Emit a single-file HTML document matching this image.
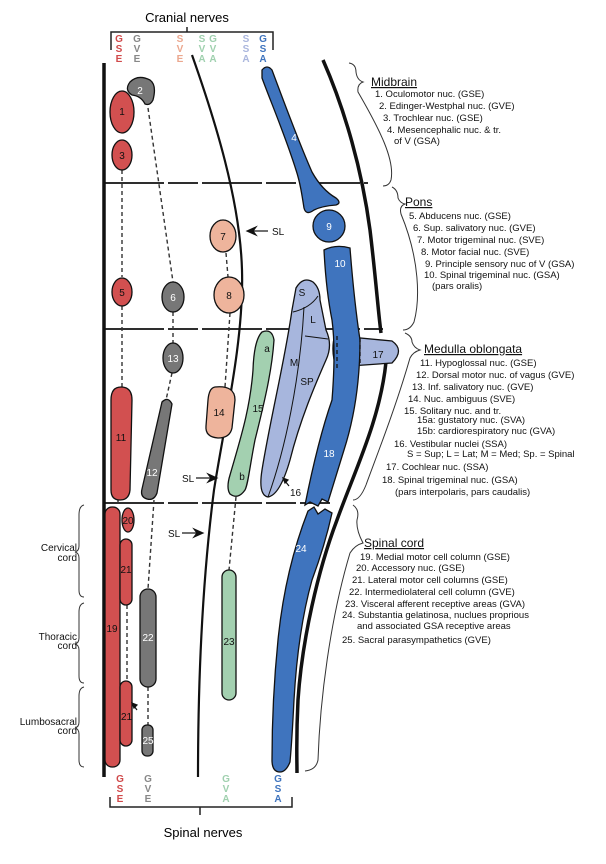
<!DOCTYPE html>
<html><head><meta charset="utf-8"><style>
html,body{margin:0;padding:0;background:#fff}
svg{display:block}
text{font-family:"Liberation Sans",Arial,sans-serif}
</style></head><body>
<svg width="606" height="864" viewBox="0 0 606 864" xmlns="http://www.w3.org/2000/svg">
<g font-size="10" text-anchor="middle" font-weight="bold">
<text x="187" y="22" font-size="13" font-weight="normal">Cranial nerves</text>
</g>
<path d="M111,50 V32 H273 V50 M187,32 V27" fill="none" stroke="#222" stroke-width="1.5"/>
<g font-size="10" font-weight="bold" text-anchor="middle">
<g fill="#d0494a"><text x="119" y="42">G</text><text x="119" y="52">S</text><text x="119" y="62">E</text></g>
<g fill="#888"><text x="137" y="42">G</text><text x="137" y="52">V</text><text x="137" y="62">E</text></g>
<g fill="#eba78e"><text x="180" y="42">S</text><text x="180" y="52">V</text><text x="180" y="62">E</text></g>
<g fill="#9fd0ae"><text x="202" y="42">S</text><text x="202" y="52">V</text><text x="202" y="62">A</text><text x="213" y="42">G</text><text x="213" y="52">V</text><text x="213" y="62">A</text></g>
<g fill="#aab6dd"><text x="246" y="42">S</text><text x="246" y="52">S</text><text x="246" y="62">A</text></g>
<g fill="#3f74be"><text x="263" y="42">G</text><text x="263" y="52">S</text><text x="263" y="62">A</text></g>
<g fill="#d0494a"><text x="120" y="782">G</text><text x="120" y="792">S</text><text x="120" y="802">E</text></g>
<g fill="#888"><text x="148" y="782">G</text><text x="148" y="792">V</text><text x="148" y="802">E</text></g>
<g fill="#9fd0ae"><text x="226" y="782">G</text><text x="226" y="792">V</text><text x="226" y="802">A</text></g>
<g fill="#3f74be"><text x="278" y="782">G</text><text x="278" y="792">S</text><text x="278" y="802">A</text></g>
</g>
<path d="M110,797 V807 H292 V797 M200,807 V815" fill="none" stroke="#222" stroke-width="1.5"/>
<text x="203" y="837" font-size="13" text-anchor="middle">Spinal nerves</text>

<g fill="none" stroke="#111">
<path d="M104,63 V777" stroke-width="3.5"/>
<path d="M192,55 C215,120 240,200 242,270 C244,340 225,420 214,490 C205,560 198,650 198,777" stroke-width="2.2"/>
<path d="M323,60 C345,110 362,170 370,230 C376,280 378,310 381,333" stroke-width="3.5"/>
<path d="M386,362 C380,420 355,470 337,520 C318,570 302,640 298,700 C296,740 297,760 297,773" stroke-width="3.5"/>
<g stroke-width="1.8" stroke-dasharray="60 4 30 4">
<path d="M104,183 H368"/>
<path d="M104,329 H383"/>
<path d="M104,503 H330"/>
</g>
</g>

<g fill="none" stroke="#333" stroke-width="1">
<path d="M349,63 Q356,64 356,72 Q357,80 363,82 Q357,84 358,92 C380,130 395,160 391,180 Q389,186 383,186"/>
<path d="M392,187 Q398,190 398,198 Q400,203 405,204 Q399,206 401,214 C420,260 420,300 414,322 Q410,330 403,330"/>
<path d="M405,333 Q412,336 412,342 Q414,348 420,350 Q413,352 410,358 C395,410 375,460 366,485 Q360,500 353,500"/>
<path d="M353,505 Q360,510 357,520 Q356,530 363,543 Q355,545 350,553 C330,620 320,700 318,760 Q316,770 305,771"/>
<path d="M84,505 Q79,506 79,515 V546 Q79,551 75,552 Q79,553 79,558 V590 Q79,597 84,597"/>
<path d="M84,603 Q79,604 79,612 V638 Q79,643 75,644 Q79,645 79,650 V676 Q79,683 84,683"/>
<path d="M84,687 Q79,688 79,696 V722 Q79,727 75,728 Q79,729 79,734 V760 Q79,767 84,767"/>
</g>
<g font-size="10" text-anchor="end" fill="#111">
<text x="77" y="551">Cervical</text><text x="77" y="561">cord</text>
<text x="77" y="640">Thoracic</text><text x="77" y="649">cord</text>
<text x="77" y="725">Lumbosacral</text><text x="77" y="734">cord</text>
</g>

<g fill="none" stroke="#333" stroke-width="1.4" stroke-dasharray="4 3">
<path d="M122,170 V277 M122,306 V387 M148,108 L173,282 M173,312 V343 M172,373 L166,400 M226,253 L228,277 M230,313 L225,387 M236,497 L229,570 M154,500 L148,589 M148,687 V725 M127,605 V681 M118,500 V507"/>
</g>

<g stroke="#111" stroke-width="1.3">
<g fill="#d25050">
<ellipse cx="122" cy="112" rx="12" ry="21"/>
<ellipse cx="122" cy="155" rx="10" ry="15"/>
<ellipse cx="122" cy="292" rx="10" ry="14"/>
<path d="M121,387 Q132,387 132,400 L130,490 Q129,500 120,500 Q111,500 111,490 L111,400 Q111,387 121,387 Z"/>
<rect x="105" y="507" width="15" height="260" rx="7"/>
<ellipse cx="128" cy="520" rx="6" ry="12"/>
<rect x="120" y="539" width="12" height="66" rx="6"/>
<rect x="120" y="681" width="12" height="65" rx="6"/>
</g>
<g fill="#777">
<path d="M130,82 Q138,74 150,80 Q157,85 153,100 Q150,106 145,104 Q141,96 132,95 Q124,90 130,82 Z"/>
<ellipse cx="173" cy="297" rx="11" ry="15"/>
<ellipse cx="173" cy="358" rx="10" ry="15"/>
<path d="M162,402 Q168,396 172,404 L157,493 Q154,501 147,499 Q140,497 142,489 Z"/>
<rect x="140" y="589" width="16" height="98" rx="8"/>
<rect x="142" y="725" width="11" height="31" rx="5"/>
</g>
<g fill="#eeb49c">
<ellipse cx="223" cy="236" rx="13" ry="16"/>
<ellipse cx="229" cy="295" rx="15" ry="18"/>
<path d="M215,387 Q235,385 235,400 L232,428 Q230,438 218,438 Q205,437 206,426 L208,400 Q209,388 215,387 Z"/>
</g>
<g fill="#a3d0b0">
<path d="M262,332 Q272,328 274,340 C272,370 265,400 255,440 C250,465 248,485 245,490 Q238,500 230,494 Q226,488 230,475 C240,440 250,410 253,370 Q254,340 262,332 Z"/>
<rect x="222" y="570" width="14" height="130" rx="7"/>
</g>
<g fill="#a7b6dd">
<path d="M296,288 Q303,276 313,282 Q320,288 320,300 L326,330 Q333,345 326,360 C315,385 300,420 290,460 Q280,495 268,497 Q258,495 262,470 C270,420 285,360 292,310 Z"/>
<path d="M335,334 L350,337 L392,341 Q405,350 392,363 L350,366 L337,369 Q330,352 335,334 Z"/>
</g>
<g fill="#3f74be">
<path d="M262,70 Q267,64 272,70 C285,105 300,145 312,172 Q322,190 336,198 Q342,203 336,205 Q322,206 314,210 Q306,216 304,208 C302,195 300,182 296,170 C285,135 270,100 262,78 Z"/>
<circle cx="329" cy="226" r="16"/>
<path d="M324,250 Q336,244 350,248 Q354,300 360,340 Q360,400 344,450 L328,502 L322,499 L318,506 L310,502 L305,505 Q318,440 332,400 Q336,350 332,320 Q326,290 324,250 Z"/>
<path d="M308,511 L314,507 L318,514 L325,509 L332,513 Q325,545 312,580 Q298,630 294,700 Q292,740 290,762 Q286,772 280,772 Q272,772 272,760 Q272,700 278,640 Q285,570 308,511 Z"/>
</g>
</g>
<g fill="none" stroke="#111" stroke-width="1">
<path d="M293,312 Q310,308 318,296 M304,307 C300,380 285,450 268,497 M305,336 L328,339"/>
<path d="M337,336 V368 M360,338 V366" stroke-dasharray="4 3" stroke-width="1.3"/>
</g>

<g font-size="10" text-anchor="middle" fill="#111">
<text x="122" y="115">1</text><text x="122" y="159">3</text><text x="122" y="296">5</text>
<text x="121" y="441">11</text><text x="112" y="632">19</text><text x="128" y="524">20</text>
<text x="126" y="573">21</text><text x="223" y="240">7</text><text x="229" y="299">8</text>
<text x="219" y="416">14</text><text x="258" y="412">15</text><text x="267" y="352">a</text>
<text x="242" y="480">b</text><text x="229" y="645">23</text>
<text x="302" y="296">S</text><text x="313" y="323">L</text><text x="294" y="366">M</text><text x="307" y="385">SP</text>
<text x="378" y="358">17</text>
</g>
<g font-size="10" text-anchor="middle" fill="#fff">
<text x="140" y="94">2</text><text x="173" y="301">6</text><text x="173" y="362">13</text>
<text x="152" y="476">12</text><text x="148" y="641">22</text><text x="148" y="744">25</text>
<text x="294" y="141">4</text><text x="329" y="230">9</text><text x="340" y="267">10</text>
<text x="329" y="457">18</text><text x="301" y="552">24</text>
</g>

<g font-size="10" fill="#111">
<text x="272" y="235">SL</text>
<text x="182" y="482">SL</text>
<text x="168" y="537">SL</text>
<text x="290" y="496">16</text>
<text x="121" y="720">21</text>
</g>
<g stroke="#111" stroke-width="1.2" fill="#111">
<path d="M268,231 H252"/><path d="M247,231 L256,227 L253,231 L256,235 Z"/>
<path d="M196,478 H212"/><path d="M217,478 L208,474 L211,478 L208,482 Z"/>
<path d="M182,533 H198"/><path d="M203,533 L194,529 L197,533 L194,537 Z"/>
<path d="M289,486 L285,481" fill="none"/><path d="M283,478 L288,480 L285,483 Z"/>
<path d="M137,710 L134,706" fill="none"/><path d="M132,703 L137,705 L134,708 Z"/>
</g>

<g font-size="9.5" fill="#111">
<text x="371" y="86" font-size="12" text-decoration="underline">Midbrain</text>
<text x="375" y="97">1.  Oculomotor nuc. (GSE)</text>
<text x="379" y="109">2.  Edinger-Westphal nuc. (GVE)</text>
<text x="383" y="121">3.  Trochlear nuc. (GSE)</text>
<text x="387" y="133">4.  Mesencephalic nuc. &amp; tr.</text>
<text x="394" y="144">of V (GSA)</text>
<text x="405" y="206" font-size="12" text-decoration="underline">Pons</text>
<text x="409" y="219">5.  Abducens nuc. (GSE)</text>
<text x="413" y="231">6.  Sup. salivatory nuc. (GVE)</text>
<text x="417" y="243">7.  Motor trigeminal nuc. (SVE)</text>
<text x="421" y="255">8.  Motor facial nuc. (SVE)</text>
<text x="425" y="267">9.  Principle sensory nuc of V (GSA)</text>
<text x="424" y="278">10.  Spinal trigeminal nuc. (GSA)</text>
<text x="432" y="289">(pars oralis)</text>
<text x="424" y="353" font-size="12" text-decoration="underline">Medulla oblongata</text>
<text x="420" y="366">11.  Hypoglossal nuc. (GSE)</text>
<text x="416" y="378">12.  Dorsal motor nuc. of vagus (GVE)</text>
<text x="412" y="390">13.  Inf. salivatory nuc. (GVE)</text>
<text x="408" y="402">14.  Nuc. ambiguus (SVE)</text>
<text x="404" y="414">15.  Solitary nuc. and tr.</text>
<text x="417" y="423">15a:  gustatory nuc. (SVA)</text>
<text x="417" y="434">15b:  cardiorespiratory nuc (GVA)</text>
<text x="394" y="447">16.  Vestibular nuclei (SSA)</text>
<text x="407" y="457">S = Sup;  L = Lat;  M = Med; Sp. = Spinal</text>
<text x="386" y="470">17.  Cochlear nuc. (SSA)</text>
<text x="382" y="483">18.  Spinal trigeminal nuc. (GSA)</text>
<text x="395" y="495">(pars interpolaris, pars caudalis)</text>
<text x="364" y="547" font-size="12" text-decoration="underline">Spinal cord</text>
<text x="360" y="560">19.  Medial motor cell column (GSE)</text>
<text x="356" y="571">20.  Accessory nuc. (GSE)</text>
<text x="352" y="583">21.  Lateral motor cell columns (GSE)</text>
<text x="349" y="595">22.  Intermediolateral cell column (GVE)</text>
<text x="345" y="607">23.  Visceral afferent receptive areas (GVA)</text>
<text x="342" y="618">24.  Substantia gelatinosa, nuclues proprious</text>
<text x="357" y="629">and associated GSA receptive areas</text>
<text x="342" y="643">25.  Sacral parasympathetics (GVE)</text>
</g>
</svg>
</body></html>
